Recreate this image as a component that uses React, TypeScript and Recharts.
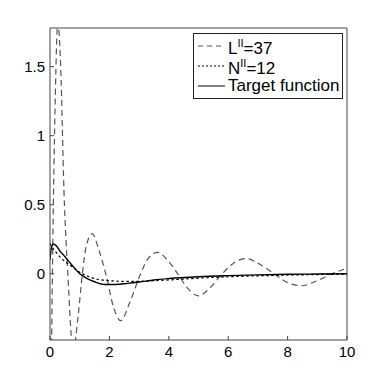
import React from 'react';
import { LineChart, Line, XAxis, YAxis, Legend } from 'recharts';

// L^II = 37 (long dashes)
const lX = [0, 0.1, 0.18, 0.26, 0.36, 0.47, 0.6, 0.78, 0.95, 1.09, 1.22, 1.42, 1.65, 1.9, 2.15, 2.38, 2.7, 3.05, 3.3, 3.62, 3.95, 4.3, 4.65, 5.0, 5.4, 5.8, 6.2, 6.6, 7.05, 7.55, 8.0, 8.48, 9.0, 9.5, 10];
const lY = [-1.6, 0.3, 1.3, 1.82, 1.5, 0.6, 0.0, -0.56, -0.3, 0.0, 0.2, 0.29, 0.17, -0.02, -0.25, -0.34, -0.2, 0.0, 0.11, 0.155, 0.1, 0.0, -0.11, -0.16, -0.1, 0.0, 0.08, 0.11, 0.07, 0.0, -0.065, -0.087, -0.05, 0.0, 0.04];

// N^II = 12 (short dashes)
const nX = [0, 0.05, 0.15, 0.3, 0.5, 0.75, 1.0, 1.3, 1.6, 2, 2.5, 3, 3.5, 4, 5, 6, 7, 8, 9, 10];
const nY = [0.22, 0.2, 0.17, 0.13, 0.09, 0.05, 0.01, -0.02, -0.04, -0.05, -0.055, -0.055, -0.05, -0.045, -0.032, -0.022, -0.015, -0.01, -0.006, -0.003];

// target function (solid)
const tX = [0, 0.05, 0.12, 0.2, 0.35, 0.5, 0.75, 1.0, 1.25, 1.5, 1.85, 2.2, 2.6, 3, 3.5, 4, 5, 6, 7, 8, 9, 10];
const tY = [0.1, 0.19, 0.215, 0.205, 0.16, 0.125, 0.06, 0.0, -0.035, -0.058, -0.078, -0.078, -0.07, -0.06, -0.045, -0.035, -0.022, -0.014, -0.008, -0.004, -0.002, 0];

const xTicks = [0, 2, 4, 6, 8, 10];
const yTicks = [0, 0.5, 1, 1.5];

const toPoints = (xs: number[], ys: number[]) => xs.map((x, i) => ({ x, y: ys[i] }));

const lData = toPoints(lX, lY);
const nData = toPoints(nX, nY);
const tData = toPoints(tX, tY);

const FONT = '"Liberation Sans", Arial, Helvetica, sans-serif';
const AXIS = '#444';

const renderLegend = () => {
  const rows = [
    { label: <>L<sup style={{ fontSize: 11 }}>II</sup>=37</>, dash: '5 4', color: '#555' },
    { label: <>N<sup style={{ fontSize: 11 }}>II</sup>=12</>, dash: '2 2', color: '#000' },
    { label: <>Target function</>, dash: undefined, color: '#000' },
  ];
  return (
    <div
      style={{
        border: '1px solid #222',
        background: '#fff',
        width: 150,
        height: 66,
        boxSizing: 'border-box',
        fontFamily: FONT,
        fontSize: 17,
        padding: '2px 0 0 4px',
      }}
    >
      {rows.map((r, i) => (
        <div key={i} style={{ display: 'flex', alignItems: 'center', height: 20, lineHeight: '20px', whiteSpace: 'nowrap' }}>
          <svg width={28} height={10} style={{ marginRight: 2 }}>
            <line x1={0} y1={5} x2={27} y2={5} stroke={r.color} strokeWidth={1} strokeDasharray={r.dash} />
          </svg>
          <span>{r.label}</span>
        </div>
      ))}
    </div>
  );
};

export default function App() {
  return (
    <div style={{ position: 'absolute', left: 0, top: 0, width: 382, height: 382, background: '#fff' }}>
      <LineChart width={382} height={382} margin={{ top: 27, right: 34, bottom: 12, left: 5 }}>
        <XAxis
          xAxisId="b"
          type="number"
          dataKey="x"
          domain={[0, 10]}
          ticks={xTicks}
          height={30}
          stroke={AXIS}
          tickSize={-4}
          tickMargin={10}
          tick={{ fill: '#000', fontSize: 15, fontFamily: FONT }}
          allowDataOverflow
        />
        <XAxis
          xAxisId="t"
          orientation="top"
          type="number"
          dataKey="x"
          domain={[0, 10]}
          ticks={xTicks}
          height={1}
          stroke={AXIS}
          tickSize={-4}
          tick={false}
          allowDataOverflow
        />
        <YAxis
          yAxisId="l"
          type="number"
          domain={[-0.48, 1.78]}
          ticks={yTicks}
          width={45}
          stroke={AXIS}
          tickSize={-4}
          tickMargin={9}
          tick={{ fill: '#000', fontSize: 15, fontFamily: FONT }}
          allowDataOverflow
        />
        <YAxis
          yAxisId="r"
          orientation="right"
          type="number"
          domain={[-0.48, 1.78]}
          ticks={yTicks}
          width={1}
          stroke={AXIS}
          tickSize={-4}
          tick={false}
          allowDataOverflow
        />
        <Legend
          content={renderLegend}
          layout="horizontal"
          verticalAlign="middle"
          align="center"
          wrapperStyle={{ position: 'absolute', left: 193, top: 33, width: 150, height: 66 }}
        />
        <Line
          xAxisId="b"
          yAxisId="l"
          data={lData}
          dataKey="y"
          type="monotone"
          stroke="#555"
          strokeWidth={1.2}
          strokeDasharray="6 4"
          dot={false}
          isAnimationActive={false}
        />
        <Line
          xAxisId="b"
          yAxisId="l"
          data={nData}
          dataKey="y"
          type="monotone"
          stroke="#000"
          strokeWidth={1.2}
          strokeDasharray="2.5 2.5"
          dot={false}
          isAnimationActive={false}
        />
        <Line
          xAxisId="b"
          yAxisId="l"
          data={tData}
          dataKey="y"
          type="monotone"
          stroke="#000"
          strokeWidth={1.4}
          dot={false}
          isAnimationActive={false}
        />
      </LineChart>
    </div>
  );
}
